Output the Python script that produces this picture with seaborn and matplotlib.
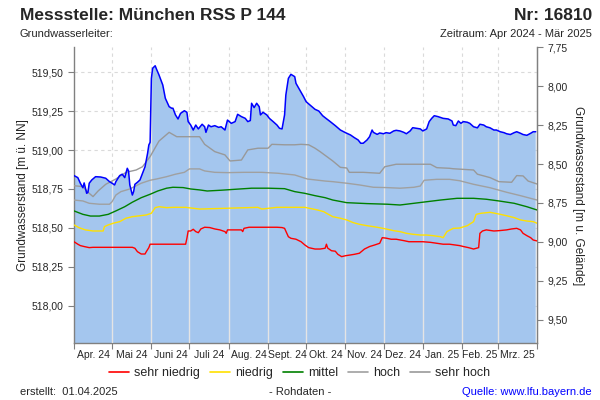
import numpy as np
import pandas as pd
import matplotlib
matplotlib.use("Agg")
import matplotlib.pyplot as plt
from matplotlib.lines import Line2D
import matplotlib.ticker as mticker
import seaborn as sns

# ---------------- data ----------------
start = "2024-04-01"
ground_level = 527.41  # m ü. NN  (right axis = ground - level)

blue_day = [0, 3, 5, 7, 8, 10, 11, 12, 14, 17, 21, 25, 28, 30, 32, 33, 36, 38, 40, 42, 43, 44, 46, 47, 48,
            50, 52, 54, 56, 58, 59, 60, 61, 62, 64, 65, 67, 70, 72, 75, 77, 78, 80, 82, 84, 87, 89, 90, 92,
            94, 96, 98, 101, 103, 104, 106, 108, 111, 114, 116, 119, 121, 124, 127, 129, 132, 135, 137, 139,
            140, 142, 144, 146, 147, 149, 152, 154, 157, 160, 162, 164, 166, 167, 169, 171, 174, 175, 178,
            181, 183, 186, 190, 193, 196, 198, 202, 206, 210, 214, 218, 221, 224, 226, 228, 231, 233, 235,
            236, 239, 241, 244, 246, 249, 252, 254, 257, 260, 262, 265, 267, 270, 273, 275, 278, 280, 282,
            284, 287, 291, 295, 298, 299, 301, 303, 305, 307, 310, 312, 315, 318, 320, 323, 325, 328, 331,
            333, 336, 339, 341, 344, 347, 349, 352, 354, 357, 360, 362, 364]
blue_val = [518.836, 518.823, 518.787, 518.758, 518.789, 518.722, 518.729, 518.787, 518.808, 518.829,
            518.827, 518.819, 518.797, 518.787, 518.776, 518.797, 518.836, 518.845, 518.823, 518.883,
            518.866, 518.776, 518.711, 518.733, 518.780, 518.793, 518.808, 518.851, 518.893, 518.979,
            519.033, 519.050, 519.460, 519.526, 519.542, 519.521, 519.483, 519.418, 519.333, 519.279,
            519.269, 519.269, 519.226, 519.200, 519.236, 519.253, 519.243, 519.183, 519.161, 519.129,
            519.161, 519.136, 519.166, 519.150, 519.114, 519.161, 519.150, 519.157, 519.146, 519.150,
            519.129, 519.193, 519.172, 519.183, 519.230, 519.215, 519.204, 519.183, 519.190, 519.301,
            519.273, 519.301, 519.279, 519.226, 519.243, 519.226, 519.204, 519.183, 519.161, 519.140,
            519.136, 519.226, 519.354, 519.461, 519.487, 519.472, 519.429, 519.386, 519.343, 519.311,
            519.290, 519.262, 519.251, 519.221, 519.208, 519.183, 519.157, 519.129, 519.112, 519.097,
            519.080, 519.065, 519.044, 519.044, 519.065, 519.086, 519.129, 519.114, 519.101, 519.110,
            519.105, 519.112, 519.108, 519.123, 519.127, 519.123, 519.114, 519.105, 519.123, 519.144,
            519.140, 519.136, 519.123, 519.136, 519.183, 519.204, 519.221, 519.215, 519.204, 519.200,
            519.187, 519.161, 519.157, 519.187, 519.172, 519.183, 519.179, 519.172, 519.150, 519.143,
            519.166, 519.161, 519.150, 519.143, 519.129, 519.129, 519.118, 519.112, 519.105, 519.100,
            519.112, 519.118, 519.108, 519.100, 519.095, 519.108, 519.118, 519.118]

red_day = [0, 3, 5, 8, 12, 15, 46, 48, 50, 53, 56, 57, 59, 60, 88, 89, 90, 92, 94, 96, 98, 100, 103, 107,
           111, 115, 119, 120, 121, 132, 133, 134, 138, 160, 164, 166, 169, 171, 175, 179, 182, 185, 190,
           194, 198, 199, 200, 203, 206, 208, 211, 214, 218, 221, 225, 229, 233, 237, 241, 243, 246, 250,
           254, 260, 264, 270, 275, 281, 286, 291, 296, 304, 307, 311, 315, 319, 320, 322, 325, 331, 335,
           341, 345, 349, 352, 354, 357, 360, 362, 365]
red_val = [518.411, 518.395, 518.386, 518.380, 518.373, 518.375, 518.375, 518.369, 518.347, 518.332,
           518.332, 518.347, 518.373, 518.395, 518.395, 518.433, 518.480, 518.480, 518.491, 518.476,
           518.469, 518.493, 518.504, 518.502, 518.493, 518.487, 518.476, 518.465, 518.487, 518.487,
           518.476, 518.497, 518.504, 518.504, 518.502, 518.497, 518.443, 518.433, 518.427, 518.411,
           518.390, 518.373, 518.364, 518.364, 518.369, 518.395, 518.370, 518.353, 518.350, 518.330,
           518.315, 518.321, 518.326, 518.330, 518.337, 518.364, 518.380, 518.390, 518.401, 518.437,
           518.434, 518.427, 518.427, 518.418, 518.411, 518.411, 518.411, 518.407, 518.401, 518.395,
           518.395, 518.386, 518.380, 518.373, 518.364, 518.373, 518.465, 518.480, 518.487, 518.480,
           518.482, 518.487, 518.493, 518.497, 518.487, 518.465, 518.450, 518.437, 518.422, 518.416]

yellow_day = [0, 4, 9, 15, 23, 24, 27, 31, 36, 41, 46, 52, 57, 61, 64, 67, 73, 78, 88, 94, 99, 145, 148,
              160, 182, 192, 197, 199, 204, 210, 215, 220, 225, 231, 236, 241, 246, 252, 257, 262, 267,
              273, 278, 283, 289, 291, 294, 299, 304, 310, 315, 317, 321, 328, 335, 341, 347, 352, 357,
              362, 365]
yellow_val = [518.519, 518.501, 518.487, 518.480, 518.480, 518.508, 518.519, 518.530, 518.540, 518.562,
              518.572, 518.578, 518.583, 518.594, 518.630, 518.636, 518.630, 518.632, 518.632, 518.626,
              518.621, 518.632, 518.621, 518.632, 518.632, 518.615, 518.604, 518.594, 518.572, 518.562,
              518.551, 518.534, 518.523, 518.514, 518.508, 518.501, 518.493, 518.482, 518.476, 518.465,
              518.459, 518.454, 518.454, 518.450, 518.443, 518.437, 518.476, 518.497, 518.499, 518.514,
              518.540, 518.587, 518.594, 518.600, 518.589, 518.578, 518.566, 518.551, 518.544, 518.540,
              518.530]

green_day = [0, 7, 13, 20, 27, 33, 40, 46, 53, 60, 66, 73, 78, 86, 92, 99, 105, 116, 127, 140, 153, 166,
             174, 182, 190, 198, 204, 215, 231, 247, 257, 268, 278, 289, 302, 315, 325, 335, 347, 357, 365]
green_val = [518.609, 518.587, 518.576, 518.576, 518.587, 518.609, 518.636, 518.665, 518.694, 518.716,
             518.737, 518.755, 518.761, 518.759, 518.750, 518.744, 518.737, 518.742, 518.748, 518.755,
             518.755, 518.752, 518.733, 518.722, 518.707, 518.694, 518.679, 518.662, 518.656, 518.652,
             518.647, 518.658, 518.668, 518.679, 518.690, 518.690, 518.684, 518.673, 518.658, 518.636,
             518.615]

hoch_day = [0, 7, 12, 20, 28, 30, 33, 37, 44, 49, 53, 60, 65, 73, 80, 87, 91, 99, 103, 111, 121, 134,
            148, 161, 174, 184, 198, 204, 215, 225, 236, 246, 257, 268, 273, 276, 286, 296, 304, 315, 328,
            341, 352, 365]
hoch_val = [518.679, 518.673, 518.658, 518.652, 518.652, 518.668, 518.711, 518.733, 518.750, 518.771,
            518.787, 518.806, 518.814, 518.829, 518.845, 518.857, 518.879, 518.879, 518.866, 518.857,
            518.855, 518.857, 518.857, 518.851, 518.840, 518.814, 518.801, 518.797, 518.787, 518.776,
            518.761, 518.759, 518.755, 518.761, 518.769, 518.806, 518.812, 518.812, 518.803, 518.780,
            518.758, 518.729, 518.707, 518.679]

sehrhoch_day = [0, 7, 11, 15, 19, 25, 33, 41, 49, 54, 60, 63, 67, 75, 81, 99, 103, 111, 119, 123, 132,
                137, 145, 153, 156, 166, 174, 179, 185, 190, 194, 204, 210, 215, 217, 228, 241, 245, 254,
                268, 281, 286, 296, 299, 315, 318, 328, 335, 345, 349, 354, 358, 365]
sehrhoch_val = [518.771, 518.765, 518.729, 518.701, 518.737, 518.780, 518.814, 518.857, 518.872, 518.893,
                518.958, 519.001, 519.058, 519.114, 519.086, 519.086, 519.037, 518.990, 518.969, 518.930,
                518.936, 519.001, 519.012, 519.012, 519.037, 519.034, 519.034, 519.037, 519.034, 519.012,
                518.990, 518.930, 518.889, 518.885, 518.857, 518.857, 518.851, 518.893, 518.909, 518.909,
                518.909, 518.887, 518.883, 518.880, 518.872, 518.845, 518.823, 518.797, 518.793, 518.836,
                518.834, 518.801, 518.782]

month_labels = ["Apr. 24", "Mai 24", "Juni 24", "Juli 24", "Aug. 24", "Sept. 24", "Okt. 24",
                "Nov. 24", "Dez. 24", "Jan. 25", "Feb. 25", "Mrz. 25"]
left_ticks = [518.00, 518.25, 518.50, 518.75, 519.00, 519.25, 519.50]
right_ticks = [7.75, 8.00, 8.25, 8.50, 8.75, 9.00, 9.25, 9.50]

series = [
    ("sehr niedrig", red_day, red_val, "#FF0000"),
    ("niedrig", yellow_day, yellow_val, "#FFE000"),
    ("mittel", green_day, green_val, "#008000"),
    ("hoch", hoch_day, hoch_val, "#A0A0A0"),
    ("sehr hoch", sehrhoch_day, sehrhoch_val, "#999999"),
]

# ---------------- styling ----------------
sns.set_style("white")
plt.rcParams["font.family"] = ["Liberation Sans", "DejaVu Sans"]

t0 = pd.Timestamp(start)
def to_dates(days):
    return t0 + pd.to_timedelta(days, unit="D")

fig = plt.figure(figsize=(6, 4), dpi=100)
ax = fig.add_axes([74 / 600, 1 - 343 / 400, (537 - 74) / 600, (343 - 47.4) / 400])

blue_df = pd.DataFrame({"date": to_dates(blue_day), "val": blue_val})
ymin, ymax = 517.76, ground_level - 7.75

poly = ax.fill_between(blue_df["date"], ymin - 1, blue_df["val"], color="#A4C6EE", lw=0, zorder=2)

# grid (dashed, behind fill)
month_starts = pd.date_range("2024-04-01", "2025-04-01", freq="MS")
for y in left_ticks:
    ax.axhline(y, color="#DADADA", lw=0.8, ls=(0, (3, 3)), zorder=1)
for d in month_starts[1:-1]:
    ax.axvline(d, color="#DADADA", lw=0.8, ls=(0, (3, 3)), zorder=1)
    vl = ax.axvline(d, color="#E4E4E4", lw=1.0, zorder=3)
    vl.set_clip_path(poly.get_paths()[0], transform=ax.transData)

for name, dd, vv, col in series:
    df = pd.DataFrame({"date": to_dates(dd), "val": vv})
    sns.lineplot(data=df, x="date", y="val", ax=ax, color=col, lw=1.0, zorder=4, legend=False)

sns.lineplot(data=blue_df, x="date", y="val", ax=ax, color="#0000FF", lw=1.1, zorder=5, legend=False)

ax.set_xlim(t0, pd.Timestamp("2025-04-01"))
ax.set_ylim(ymin, ymax)
ax.set_xlabel("")
ax.set_ylabel("Grundwasserstand [m ü. NN]", fontsize=8.5, labelpad=2)

fmt = mticker.FuncFormatter(lambda v, p: f"{v:.2f}".replace(".", ","))
ax.set_yticks(left_ticks)
ax.yaxis.set_major_formatter(fmt)
ax.tick_params(axis="y", labelsize=7.5, length=4, width=0.8, color="#808080", direction="out", left=True)

ax.set_xticks(month_starts)
ax.set_xticklabels([])
mids = [month_starts[i] + (month_starts[i + 1] - month_starts[i]) / 2 for i in range(12)]
ax.set_xticks(mids, minor=True)
ax.set_xticklabels(month_labels, minor=True)
ax.tick_params(axis="x", which="major", length=4, width=0.8, color="#808080", direction="out", bottom=True)
ax.tick_params(axis="x", which="minor", length=0, labelsize=7.5, pad=5)

for s in ["top"]:
    ax.spines[s].set_visible(False)
for s in ["left", "right", "bottom"]:
    ax.spines[s].set_color("#808080")
    ax.spines[s].set_linewidth(1.0)

sec = ax.secondary_yaxis("right", functions=(lambda v: ground_level - v, lambda d: ground_level - d))
sec.set_yticks(right_ticks)
sec.yaxis.set_major_formatter(fmt)
sec.tick_params(axis="y", labelsize=7.5, length=4, width=0.8, color="#808080", direction="out")
sec.spines["right"].set_color("#808080")
sec.set_ylabel("Grundwasserstand [m u. Gelände]", fontsize=8.5, rotation=-90, labelpad=12)

# header
fig.text(20 / 600, 1 - 15 / 400, "Messstelle: München RSS P 144", fontsize=12.5, fontweight="bold",
         ha="left", va="center")
fig.text(592 / 600, 1 - 15 / 400, "Nr: 16810", fontsize=12.5, fontweight="bold", ha="right", va="center")
fig.text(20 / 600, 1 - 34 / 400, "Grundwasserleiter:", fontsize=8, ha="left", va="center")
fig.text(592 / 600, 1 - 34 / 400, "Zeitraum: Apr 2024 - Mär 2025", fontsize=8, ha="right", va="center")

# legend
handles = [Line2D([0], [0], color=c, lw=1.2) for _, _, _, c in series]
fig.legend(handles, [n for n, _, _, _ in series], loc="center", bbox_to_anchor=(0.5, 1 - 373 / 400),
           ncol=5, frameon=False, fontsize=9, handlelength=1.6, handletextpad=0.4, columnspacing=0.8)

# footer
fig.text(20 / 600, 1 - 392 / 400, "erstellt:  01.04.2025", fontsize=8, ha="left", va="center")
fig.text(300 / 600, 1 - 392 / 400, "- Rohdaten -", fontsize=8, ha="center", va="center")
fig.text(592 / 600, 1 - 392 / 400, "Quelle: www.lfu.bayern.de", fontsize=8, ha="right", va="center",
         color="#0000FF")

fig.savefig("out.png", dpi=100)
